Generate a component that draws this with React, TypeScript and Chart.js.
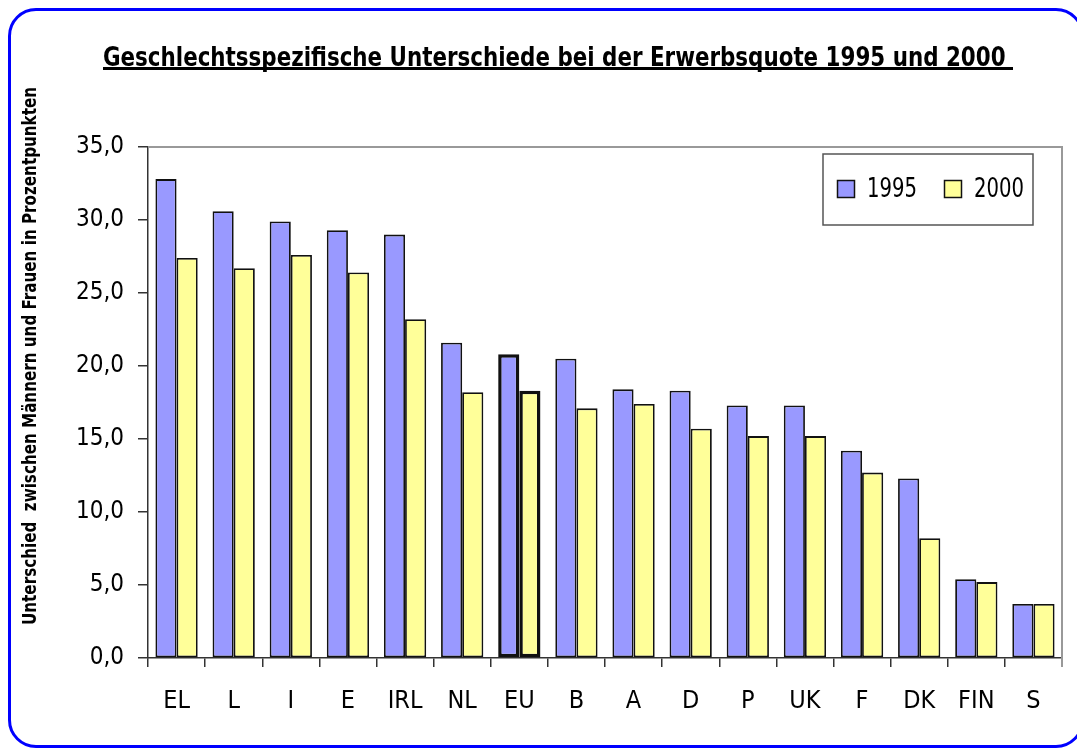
import React, { useEffect, useRef } from "react";
import { Chart, registerables } from "chart.js";

Chart.register(...registerables);

const categories = ["EL", "L", "I", "E", "IRL", "NL", "EU", "B", "A", "D", "P", "UK", "F", "DK", "FIN", "S"];
const values1995 = [32.8, 30.6, 29.9, 29.3, 29.0, 21.6, 20.8, 20.5, 18.4, 18.3, 17.3, 17.3, 14.2, 12.3, 5.4, 3.7];
const values2000 = [27.4, 26.7, 27.6, 26.4, 23.2, 18.2, 18.3, 17.1, 17.4, 15.7, 15.2, 15.2, 12.7, 8.2, 5.2, 3.7];
const seriesLabels = ["1995", "2000"];
const titleText = "Geschlechtsspezifische Unterschiede bei der Erwerbsquote 1995 und 2000 ";
const yTitleText = "Unterschied  zwischen Männern und Frauen in Prozentpunkten";
const yMin = 0;
const yMax = 35;
const yStep = 5;

const FONT = "'Liberation Sans Narrow', 'Arial Narrow', 'DejaVu Sans Condensed', sans-serif";
const BLUE = "#9999FF";
const YELLOW = "#FFFF99";
const highlightIndex = categories.indexOf("EU");

function drawFitted(ctx: CanvasRenderingContext2D, text: string, x: number, y: number, targetW: number, align: "left" | "center") {
  const w = ctx.measureText(text).width;
  const sx = Math.min(1, targetW / w);
  ctx.save();
  ctx.translate(x, y);
  ctx.scale(sx, 1);
  ctx.textAlign = align;
  ctx.fillText(text, 0, 0);
  ctx.restore();
  return w * sx;
}

const decorPlugin = {
  id: "decor",
  afterDraw(chart: any) {
    const ctx = chart.ctx as CanvasRenderingContext2D;
    const { left, top, right, bottom } = chart.chartArea;
    ctx.save();
    // plot frame top and right
    ctx.strokeStyle = "#999999";
    ctx.lineWidth = 2;
    ctx.beginPath();
    ctx.moveTo(left, top);
    ctx.lineTo(right, top);
    ctx.lineTo(right, bottom + 9);
    ctx.stroke();

    // title
    ctx.fillStyle = "#000";
    ctx.font = `bold 26px ${FONT}`;
    ctx.textBaseline = "alphabetic";
    const titleW = 910;
    const tx = 547 - titleW / 2;
    const used = drawFitted(ctx, titleText, tx, 55, titleW, "left");
    ctx.fillRect(tx, 56, used, 3);

    // y axis title
    ctx.save();
    ctx.translate(20, 345);
    ctx.rotate(-Math.PI / 2);
    ctx.font = `bold 20px ${FONT}`;
    ctx.textBaseline = "middle";
    drawFitted(ctx, yTitleText, 0, 0, 538, "center");
    ctx.restore();

    // legend box
    const lx = 812, ly = 143, lw = 210, lh = 71;
    ctx.fillStyle = "#fff";
    ctx.fillRect(lx, ly, lw, lh);
    ctx.strokeStyle = "#555";
    ctx.lineWidth = 1.5;
    ctx.strokeRect(lx, ly, lw, lh);
    const items = chart.data.datasets.map((d: any, i: number) => ({
      label: d.label,
      color: Array.isArray(d.backgroundColor) ? d.backgroundColor[0] : d.backgroundColor,
      sx: i === 0 ? 826 : 933,
    }));
    ctx.font = `26px ${FONT}`;
    ctx.textBaseline = "middle";
    for (const it of items) {
      ctx.fillStyle = it.color;
      ctx.fillRect(it.sx, 169, 18, 18);
      ctx.strokeStyle = "#111";
      ctx.lineWidth = 1.5;
      ctx.strokeRect(it.sx + 0.5, 169.5, 17, 17);
      ctx.fillStyle = "#000";
      drawFitted(ctx, it.label, it.sx + 30, 179, 50, "left");
    }
    ctx.restore();
  },
};

export default function App() {
  const ref = useRef<HTMLCanvasElement | null>(null);
  useEffect(() => {
    document.documentElement.style.overflow = "hidden";
    const canvas = ref.current;
    if (!canvas) return;
    Chart.defaults.font.family = FONT;
    const borderW = categories.map((_, i) => (i === highlightIndex ? 3.5 : 1.8));
    const chart = new Chart(canvas, {
      type: "bar",
      data: {
        labels: categories,
        datasets: [
          {
            label: seriesLabels[0],
            data: values1995,
            backgroundColor: categories.map(() => BLUE),
            borderColor: "#111",
            borderWidth: borderW,
            borderSkipped: false,
          },
          {
            label: seriesLabels[1],
            data: values2000,
            backgroundColor: categories.map(() => YELLOW),
            borderColor: "#111",
            borderWidth: borderW,
            borderSkipped: false,
          },
        ],
      },
      options: {
        animation: false,
        responsive: false,
        maintainAspectRatio: false,
        layout: { padding: { top: 136, right: 19, left: 0, bottom: 0 } },
        datasets: { bar: { categoryPercentage: 0.74, barPercentage: 1 } },
        plugins: {
          legend: { display: false },
          title: { display: false },
          tooltip: { enabled: false },
        },
        scales: {
          x: {
            afterFit: (s: any) => {
              s.height = 87;
            },
            grid: {
              display: true,
              offset: true,
              drawOnChartArea: false,
              drawTicks: true,
              tickLength: 9,
              color: "#333",
              lineWidth: 1.5,
            },
            border: { display: true, color: "#333", width: 1.5 },
            ticks: { color: "#000", font: { size: 25 }, padding: 19, maxRotation: 0, autoSkip: false },
          },
          y: {
            min: yMin,
            max: yMax,
            afterFit: (s: any) => {
              s.width = 137;
            },
            grid: {
              display: true,
              drawOnChartArea: false,
              drawTicks: true,
              tickLength: 10,
              color: "#333",
              lineWidth: 1.5,
            },
            border: { display: true, color: "#333", width: 1.5 },
            ticks: {
              stepSize: yStep,
              color: "#000",
              font: { size: 24 },
              padding: 14,
              callback: (v: any) => Number(v).toFixed(1).replace(".", ","),
            },
          },
        },
      },
      plugins: [decorPlugin],
    });
    return () => chart.destroy();
  }, []);

  return (
    <div
      style={{
        position: "relative",
        width: 1076,
        height: 740,
        border: "3px solid #0000FF",
        borderRadius: 28,
        boxSizing: "border-box",
        background: "#fff",
      }}
    >
      <canvas ref={ref} width={1070} height={734} style={{ display: "block" }} />
    </div>
  );
}
